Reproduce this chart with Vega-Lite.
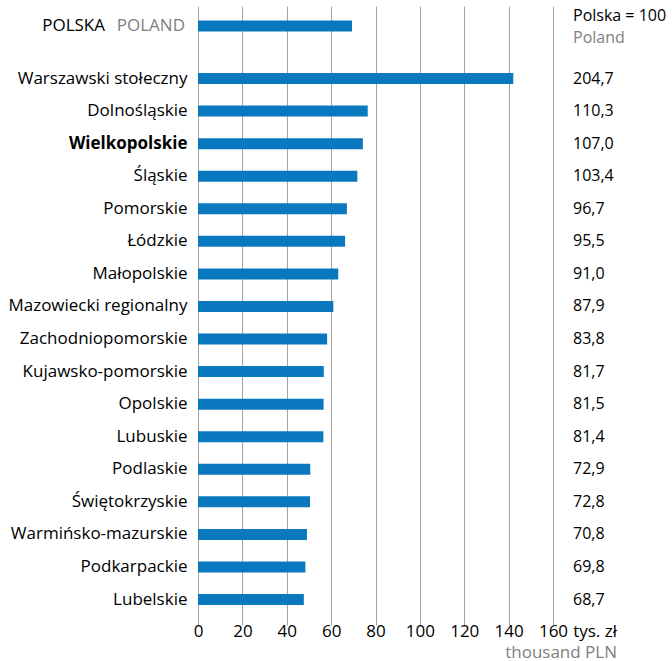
{
  "$schema": "https://vega.github.io/schema/vega-lite/v6.json",
  "width": 355,
  "height": 606,
  "autosize": "none",
  "padding": {"left": 198, "top": 8, "right": 119, "bottom": 47},
  "config": {
    "view": {"stroke": null},
    "font": "Open Sans",
    "locale": {"number": {"decimal": ",", "thousands": " ", "grouping": [3], "currency": ["", " zł"]}},
    "text": {"fontSize": 16, "color": "#000000"}
  },
  "data": {
    "values": [
      {"region": "POLSKA", "group": "poland", "value": 69.4, "index": 100.0},
      {"region": "Warszawski stołeczny", "group": "region", "value": 142.1, "index": 204.7},
      {"region": "Dolnośląskie", "group": "region", "value": 76.5, "index": 110.3},
      {"region": "Wielkopolskie", "group": "region", "value": 74.3, "index": 107.0},
      {"region": "Śląskie", "group": "region", "value": 71.8, "index": 103.4},
      {"region": "Pomorskie", "group": "region", "value": 67.1, "index": 96.7},
      {"region": "Łódzkie", "group": "region", "value": 66.3, "index": 95.5},
      {"region": "Małopolskie", "group": "region", "value": 63.2, "index": 91.0},
      {"region": "Mazowiecki regionalny", "group": "region", "value": 61.0, "index": 87.9},
      {"region": "Zachodniopomorskie", "group": "region", "value": 58.2, "index": 83.8},
      {"region": "Kujawsko-pomorskie", "group": "region", "value": 56.7, "index": 81.7},
      {"region": "Opolskie", "group": "region", "value": 56.6, "index": 81.5},
      {"region": "Lubuskie", "group": "region", "value": 56.5, "index": 81.4},
      {"region": "Podlaskie", "group": "region", "value": 50.6, "index": 72.9},
      {"region": "Świętokrzyskie", "group": "region", "value": 50.5, "index": 72.8},
      {"region": "Warmińsko-mazurskie", "group": "region", "value": 49.1, "index": 70.8},
      {"region": "Podkarpackie", "group": "region", "value": 48.4, "index": 69.8},
      {"region": "Lubelskie", "group": "region", "value": 47.7, "index": 68.7}
    ]
  },
  "encoding": {
    "y": {
      "field": "region", "type": "nominal",
      "scale": {
        "domain": ["POLSKA", " ", "Warszawski stołeczny", "Dolnośląskie", "Wielkopolskie", "Śląskie", "Pomorskie", "Łódzkie", "Małopolskie", "Mazowiecki regionalny", "Zachodniopomorskie", "Kujawsko-pomorskie", "Opolskie", "Lubuskie", "Podlaskie", "Świętokrzyskie", "Warmińsko-mazurskie", "Podkarpackie", "Lubelskie"],
        "range": [-10.88, 607.8], "paddingInner": 0, "paddingOuter": 0
      },
      "axis": {
        "orient": "left", "ticks": false, "domain": false, "grid": false, "title": null,
        "labelFontSize": 17, "labelColor": "#000000", "labelPadding": 11, "labelLimit": 300,
        "labelFont": "Open Sans",
        "labelExpr": "datum.value === 'POLSKA' || datum.value === ' ' ? '' : datum.value",
        "labelFontWeight": {"condition": {"test": "datum.value === 'Wielkopolskie'", "value": "bold"}, "value": "normal"}
      }
    }
  },
  "layer": [
    {
      "transform": [{"filter": "datum.group === 'region'"}],
      "mark": {"type": "bar", "size": 11, "color": "#0a78be"},
      "encoding": {
        "x": {"field": "value", "type": "quantitative",
              "scale": {"domain": [0, 160], "nice": false},
              "axis": {"values": [0, 20, 40, 60, 80, 100, 120, 140, 160], "grid": true,
                       "gridColor": "#a3a3a3", "gridWidth": 1, "ticks": false, "domain": false,
                       "labelFontSize": 17, "labelColor": "#000000", "labelPadding": 9,
                       "labelFlush": false, "labelOverlap": false,
                       "labelFont": "Open Sans", "title": null}}
      }
    },
    {
      "transform": [{"filter": "datum.group === 'poland'"}],
      "mark": {"type": "bar", "size": 11, "color": "#0a78be", "yOffset": 12.6},
      "encoding": {"x": {"field": "value", "type": "quantitative"}}
    },
    {
      "transform": [{"filter": "datum.group === 'poland'"}],
      "mark": {"type": "text", "align": "right", "baseline": "middle", "dx": -93, "dy": 12.6, "fontSize": 17},
      "encoding": {"x": {"datum": 0, "type": "quantitative"}, "text": {"field": "region"}}
    },
    {
      "transform": [{"filter": "datum.group === 'poland'"}],
      "mark": {"type": "text", "align": "right", "baseline": "middle", "dx": -13, "dy": 12.6, "fontSize": 17, "color": "#808080"},
      "encoding": {"x": {"datum": 0, "type": "quantitative"}, "text": {"value": "POLAND"}}
    },
    {
      "transform": [{"filter": "datum.group === 'poland'"}],
      "mark": {"type": "text", "align": "left", "baseline": "middle", "dx": 20, "dy": 2.6},
      "encoding": {"x": {"datum": 160, "type": "quantitative"}, "text": {"value": "Polska = 100"}}
    },
    {
      "transform": [{"filter": "datum.group === 'poland'"}],
      "mark": {"type": "text", "align": "left", "baseline": "middle", "dx": 20, "dy": 24.6, "color": "#808080"},
      "encoding": {"x": {"datum": 160, "type": "quantitative"}, "text": {"value": "Poland"}}
    },
    {
      "transform": [{"filter": "datum.group === 'region'"}],
      "mark": {"type": "text", "align": "left", "baseline": "middle", "dx": 20},
      "encoding": {"x": {"datum": 160, "type": "quantitative"},
                   "text": {"field": "index", "type": "quantitative", "format": ".1f"}}
    },
    {
      "transform": [{"filter": "datum.region === 'Lubelskie'"}],
      "mark": {"type": "text", "align": "right", "baseline": "middle", "dx": 64, "dy": 32.5, "fontSize": 17},
      "encoding": {"x": {"datum": 160, "type": "quantitative"}, "text": {"value": "tys. zł"}}
    },
    {
      "transform": [{"filter": "datum.region === 'Lubelskie'"}],
      "mark": {"type": "text", "align": "right", "baseline": "middle", "dx": 64, "dy": 53.5, "fontSize": 17, "color": "#808080"},
      "encoding": {"x": {"datum": 160, "type": "quantitative"}, "text": {"value": "thousand PLN"}}
    }
  ]
}
